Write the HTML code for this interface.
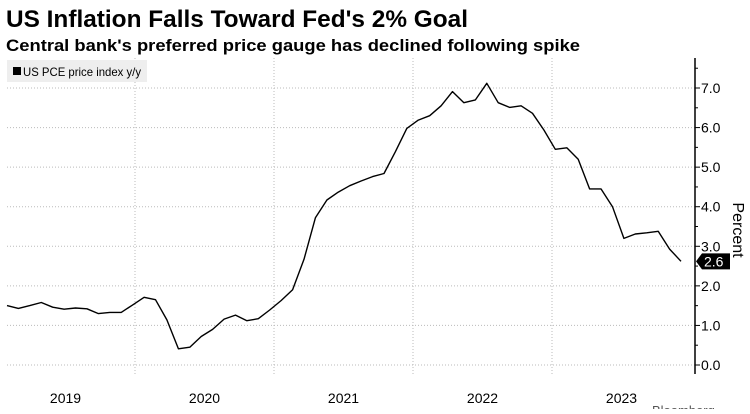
<!DOCTYPE html>
<html><head><meta charset="utf-8"><style>
body{margin:0;background:#fff;width:750px;height:409px;overflow:hidden;font-family:"Liberation Sans",sans-serif}
</style></head><body>
<svg width="750" height="409" xmlns="http://www.w3.org/2000/svg">
<text x="6" y="27" font-size="24" font-weight="bold" fill="#000" textLength="462" lengthAdjust="spacingAndGlyphs">US Inflation Falls Toward Fed's 2% Goal</text>
<text x="6" y="51" font-size="17" font-weight="bold" fill="#000" textLength="574" lengthAdjust="spacingAndGlyphs">Central bank's preferred price gauge has declined following spike</text>
<g id="grid"></g>
<g id="axis"></g>
<g id="xlab"></g>
<rect x="7" y="60" width="140" height="22" fill="#eeeeee"/>
<rect x="13" y="67" width="8" height="8" fill="#000"/>
<text x="23" y="76" font-size="12" fill="#000" textLength="118" lengthAdjust="spacingAndGlyphs">US PCE price index y/y</text>
<path id="line" fill="none" stroke="#000" stroke-width="1.4" stroke-linejoin="round"/>
<text x="737" y="230" font-size="16" fill="#000" transform="rotate(90 737 230)" text-anchor="middle" dominant-baseline="middle">Percent</text>
<g id="last"></g>
<text x="652" y="415" font-size="13" fill="#555">Bloomberg</text>
</svg>
<script>
const values=[1.50,1.43,1.50,1.58,1.46,1.41,1.44,1.42,1.30,1.33,1.33,1.52,1.71,1.65,1.14,0.41,0.45,0.72,0.90,1.16,1.26,1.12,1.17,1.39,1.63,1.90,2.67,3.72,4.17,4.37,4.53,4.65,4.76,4.84,5.39,5.98,6.19,6.30,6.55,6.91,6.63,6.70,7.12,6.63,6.51,6.55,6.36,5.94,5.45,5.49,5.20,4.45,4.45,4.00,3.20,3.31,3.34,3.38,2.93,2.62];
const yTicks=[0,1,2,3,4,5,6,7];
const years=["2019","2020","2021","2022","2023"];
const NS="http://www.w3.org/2000/svg";
const X0=7,X1=681,AX=695,Y0=365,PU=39.57;
const xs=i=>X0+i*(X1-X0)/(values.length-1);
const ys=v=>Y0-v*PU;
function mk(t,a,p){const e=document.createElementNS(NS,t);for(const k in a)e.setAttribute(k,a[k]);p.appendChild(e);return e;}
const grid=document.getElementById('grid'),axis=document.getElementById('axis'),xl=document.getElementById('xlab');
yTicks.forEach(v=>{
 const l=mk('line',{x1:7,x2:AX,y1:ys(v),y2:ys(v),stroke:'#bbb','stroke-dasharray':'1,2','stroke-width':1},grid);
 
 
 mk('line',{x1:AX,x2:AX+5,y1:ys(v),y2:ys(v),stroke:'#000'},axis);
 mk('line',{x1:AX,x2:AX+3,y1:ys(v+0.5),y2:ys(v+0.5),stroke:'#000'},axis);
 const t=mk('text',{x:AX+6,y:ys(v)+5,'font-size':14,fill:'#000'},axis);
 t.textContent=v.toFixed(1);
 
 
});
mk('line',{x1:AX,x2:AX,y1:58,y2:374,stroke:'#000','stroke-width':1.5},axis);
const yw=139;
years.forEach((y,i)=>{
 const gx=135+(i-1)*yw;
 if(i>0){const l=mk('line',{x1:gx,x2:gx,y1:58,y2:374,stroke:'#bbb','stroke-dasharray':'1,2'},grid);
  
  }
 const t=mk('text',{x:gx+yw/2,y:403,'font-size':14,'text-anchor':'middle',fill:'#000'},xl);
 t.textContent=y;
 
 
});
document.getElementById('line').setAttribute('d',values.map((v,i)=>(i?'L':'M')+xs(i).toFixed(1)+','+ys(v).toFixed(1)).join(''));
const last=values[values.length-1],ly=ys(last),g=document.getElementById('last');
mk('path',{d:`M${AX+1},${ly} L${AX+7},${ly-8} L${AX+35},${ly-8} L${AX+35},${ly+8} L${AX+7},${ly+8} Z`,fill:'#000'},g);
const lt=mk('text',{x:AX+9,y:ly+5,'font-size':14,fill:'#fff'},g);
lt.textContent=(Math.round(last*10)/10).toFixed(1);
</script>
</body></html>
